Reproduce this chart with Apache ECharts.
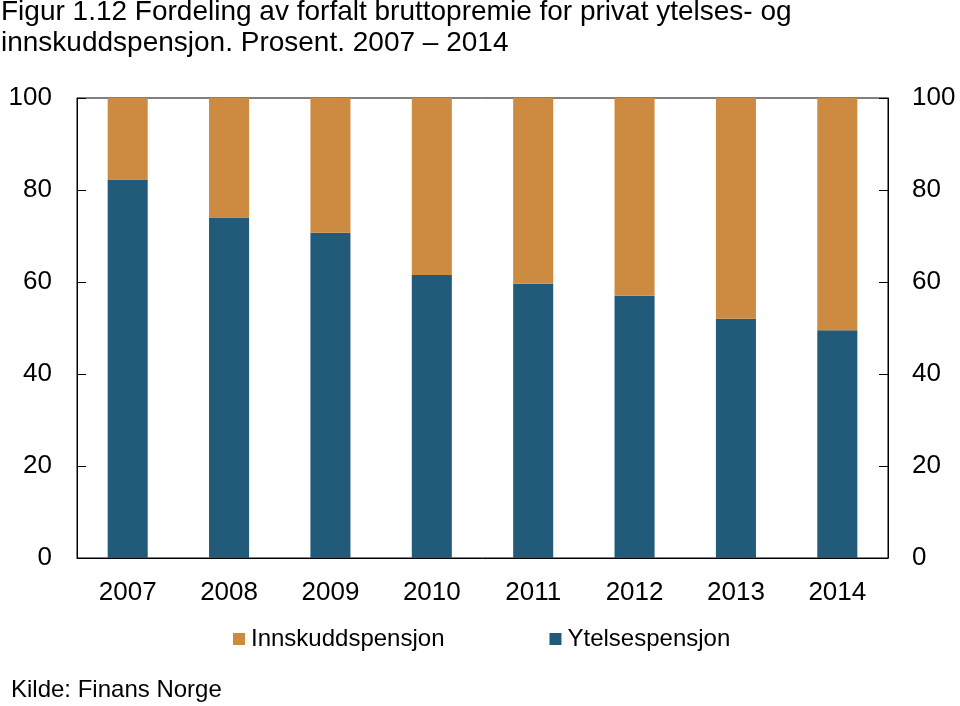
<!DOCTYPE html>
<html><head><meta charset="utf-8">
<script src="https://cdn.jsdelivr.net/npm/echarts@6/dist/echarts.min.js"></script>
<style>html,body{margin:0;padding:0;background:#fff}#c{width:960px;height:706px}</style>
</head><body><div id="c"></div>
<script>
const categories = ['2007','2008','2009','2010','2011','2012','2013','2014'];
const ytelsespensjon = [82.3, 74.0, 70.7, 61.5, 59.6, 57.0, 52.0, 49.5];
const innskuddspensjon = [17.7, 26.0, 29.3, 38.5, 40.4, 43.0, 48.0, 50.5];
const titleText = 'Figur 1.12 Fordeling av forfalt bruttopremie for privat ytelses- og\ninnskuddspensjon. Prosent. 2007 \u2013 2014';
const sourceText = 'Kilde: Finans Norge';

const FONT = '"Liberation Sans", Arial, sans-serif';
const chart = echarts.init(document.getElementById('c'), null, {renderer:'canvas'});
const yCommon = {
  type:'value', min:0, max:100, interval:20,
  axisLine:{show:true, lineStyle:{color:'#000', width:1}},
  axisTick:{show:true, inside:true, length:9, lineStyle:{color:'#000'}},
  splitLine:{show:false},
  axisLabel:{color:'#000', fontSize:26, fontFamily:FONT, margin:25}
};
chart.setOption({
  animation:false,
  title:[
    {text:titleText, left:1, top:-3, padding:0, textStyle:{fontSize:28, fontWeight:'normal', color:'#000', fontFamily:FONT, lineHeight:31}},
    {text:sourceText, left:11, top:678, padding:0, textStyle:{fontSize:24, fontWeight:'normal', color:'#000', fontFamily:FONT}}
  ],
  grid:{left:77, right:72, top:98, bottom:148, show:true, borderColor:'#000', borderWidth:1, backgroundColor:'transparent'},
  legend:{
    data:['Innskuddspensjon','Ytelsespensjon'],
    left:233, top:627, padding:0, itemWidth:12, itemHeight:12, itemGap:105,
    icon:'rect',
    textStyle:{fontSize:24, color:'#000', fontFamily:FONT, padding:[0,0,0,1]}
  },
  xAxis:{
    type:'category', data:categories,
    axisLine:{show:true, lineStyle:{color:'#000'}},
    axisTick:{show:false},
    axisLabel:{color:'#000', fontSize:26, fontFamily:FONT, margin:22}
  },
  yAxis:[
    Object.assign({}, yCommon, {position:'left'}),
    Object.assign({}, yCommon, {position:'right', axisLabel:Object.assign({}, yCommon.axisLabel, {margin:24})})
  ],
  series:[
    {name:'Ytelsespensjon', type:'bar', stack:'s', data:ytelsespensjon, barWidth:'39.5%', itemStyle:{color:'#225A79'}},
    {name:'Innskuddspensjon', type:'bar', stack:'s', data:innskuddspensjon, barWidth:'39.5%', itemStyle:{color:'#CD8B41'}}
  ]
});
</script></body></html>
